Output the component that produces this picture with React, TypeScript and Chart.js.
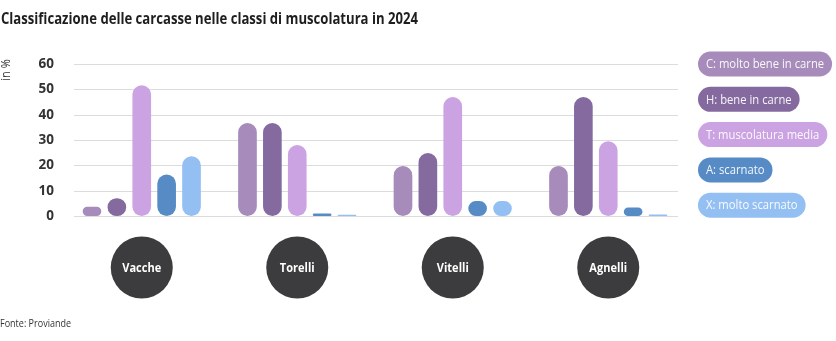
import React, { useEffect, useRef } from "react";
import { Chart, registerables } from "chart.js";

Chart.register(...registerables);

const titleText = "Classificazione delle carcasse nelle classi di muscolatura in 2024";
const sourceText = "Fonte: Proviande";
const yAxisTitle = "in %";

const categories = ["Vacche", "Torelli", "Vitelli", "Agnelli"];
const seriesLabels = [
  "C: molto bene in carne",
  "H: bene in carne",
  "T: muscolatura media",
  "A: scarnato",
  "X: molto scarnato",
];
const valuesC = [3.7, 36.7, 19.7, 19.7];
const valuesH = [7, 36.7, 24.9, 47];
const valuesT = [51.6, 28, 47, 29.5];
const valuesA = [16.4, 1, 5.9, 3.4];
const valuesX = [23.6, 0.5, 5.9, 0.6];
const yMin = 0;
const yMax = 60;
const yStep = 10;

const seriesColors = ["#a68bbb", "#856aa0", "#cca3e2", "#578bc6", "#93bff2"];

const FONT = "'Open Sans', 'Noto Sans', sans-serif";

function drawText(
  ctx: CanvasRenderingContext2D,
  text: string,
  x: number,
  y: number,
  font: string,
  color: string,
  sx: number,
  align: CanvasTextAlign,
  baseline: CanvasTextBaseline
) {
  ctx.save();
  ctx.font = font;
  ctx.fillStyle = color;
  ctx.textAlign = align;
  ctx.textBaseline = baseline;
  ctx.translate(x, y);
  ctx.scale(sx, 1);
  ctx.fillText(text, 0, 0);
  ctx.restore();
}

const decorPlugin = {
  id: "decor",
  beforeDatasetsDraw(chart: any) {
    const ctx = chart.ctx as CanvasRenderingContext2D;
    const y = chart.scales.y;
    const area = chart.chartArea;
    ctx.save();
    ctx.strokeStyle = "#dcdcdc";
    ctx.lineWidth = 1.2;
    y.ticks.forEach((t: any) => {
      const py = Math.round(y.getPixelForValue(t.value)) + 0.5;
      ctx.beginPath();
      ctx.moveTo(area.left + 10, py);
      ctx.lineTo(area.right - 8, py);
      ctx.stroke();
    });
    ctx.restore();
  },
  afterDraw(chart: any) {
    const ctx = chart.ctx as CanvasRenderingContext2D;
    const x = chart.scales.x;
    // title
    drawText(ctx, titleText, 1, 24, `bold 16px ${FONT}`, "#1e1e1e", 0.82, "left", "alphabetic");
    // source
    drawText(ctx, sourceText, 0, 327, `11px ${FONT}`, "#333333", 0.82, "left", "alphabetic");
    // y axis title rotated
    ctx.save();
    ctx.translate(6, 70);
    ctx.rotate(-Math.PI / 2);
    drawText(ctx, yAxisTitle, 0, 0, `13px ${FONT}`, "#333333", 0.85, "center", "middle");
    ctx.restore();
    // category circles
    categories.forEach((c, i) => {
      const cx = x.getPixelForValue(i);
      const cy = 267.5;
      ctx.save();
      ctx.beginPath();
      ctx.arc(cx, cy, 31, 0, Math.PI * 2);
      ctx.fillStyle = "#3c3b3d";
      ctx.fill();
      ctx.restore();
      drawText(ctx, c, cx, cy + 0.5, `bold 13px ${FONT}`, "#ffffff", 0.85, "center", "middle");
    });
    // legend pills
    const sx = 0.865;
    const font = `13px ${FONT}`;
    seriesLabels.forEach((lab, i) => {
      ctx.save();
      ctx.font = font;
      const tw = ctx.measureText(lab).width * sx;
      ctx.restore();
      const left = 698;
      const h = 25;
      const cy = 64 + i * 35.3;
      const w = tw + 16;
      ctx.save();
      ctx.beginPath();
      ctx.roundRect(left, cy - h / 2, w, h, h / 2);
      ctx.fillStyle = seriesColors[i];
      ctx.fill();
      ctx.restore();
      drawText(ctx, lab, left + 8, cy + 0.5, font, "rgba(255,255,255,0.93)", sx, "left", "middle");
    });
  },
};

export default function App() {
  const ref = useRef<HTMLCanvasElement | null>(null);
  useEffect(() => {
    if (!ref.current) return;
    const seriesValues = [valuesC, valuesH, valuesT, valuesA, valuesX];
    const chart = new Chart(ref.current, {
      type: "bar",
      data: {
        labels: categories,
        datasets: seriesValues.map((vals, i) => ({
          label: seriesLabels[i],
          data: vals,
          backgroundColor: seriesColors[i],
          borderRadius: 30,
          borderSkipped: false,
          categoryPercentage: 0.8,
          barPercentage: 0.75,
        })),
      },
      options: {
        animation: false,
        responsive: true,
        maintainAspectRatio: false,
        layout: { padding: { left: 0, top: 64, right: 150, bottom: 125 } },
        plugins: {
          legend: { display: false },
          tooltip: { enabled: false },
          title: { display: false },
        },
        scales: {
          x: { display: false },
          y: {
            min: yMin,
            max: yMax,
            ticks: {
              stepSize: yStep,
              padding: 10,
              color: "#333333",
              font: { family: FONT, size: 13.5, weight: "bold" },
            },
            grid: { display: false, drawTicks: false },
            border: { display: false },
            afterFit: (s: any) => {
              s.width = 64;
            },
          },
        },
      },
      plugins: [decorPlugin],
    });
    return () => chart.destroy();
  }, []);
  return (
    <div style={{ position: "fixed", left: 0, top: 0, width: 836, height: 341, background: "#ffffff" }}>
      <canvas ref={ref} />
    </div>
  );
}
